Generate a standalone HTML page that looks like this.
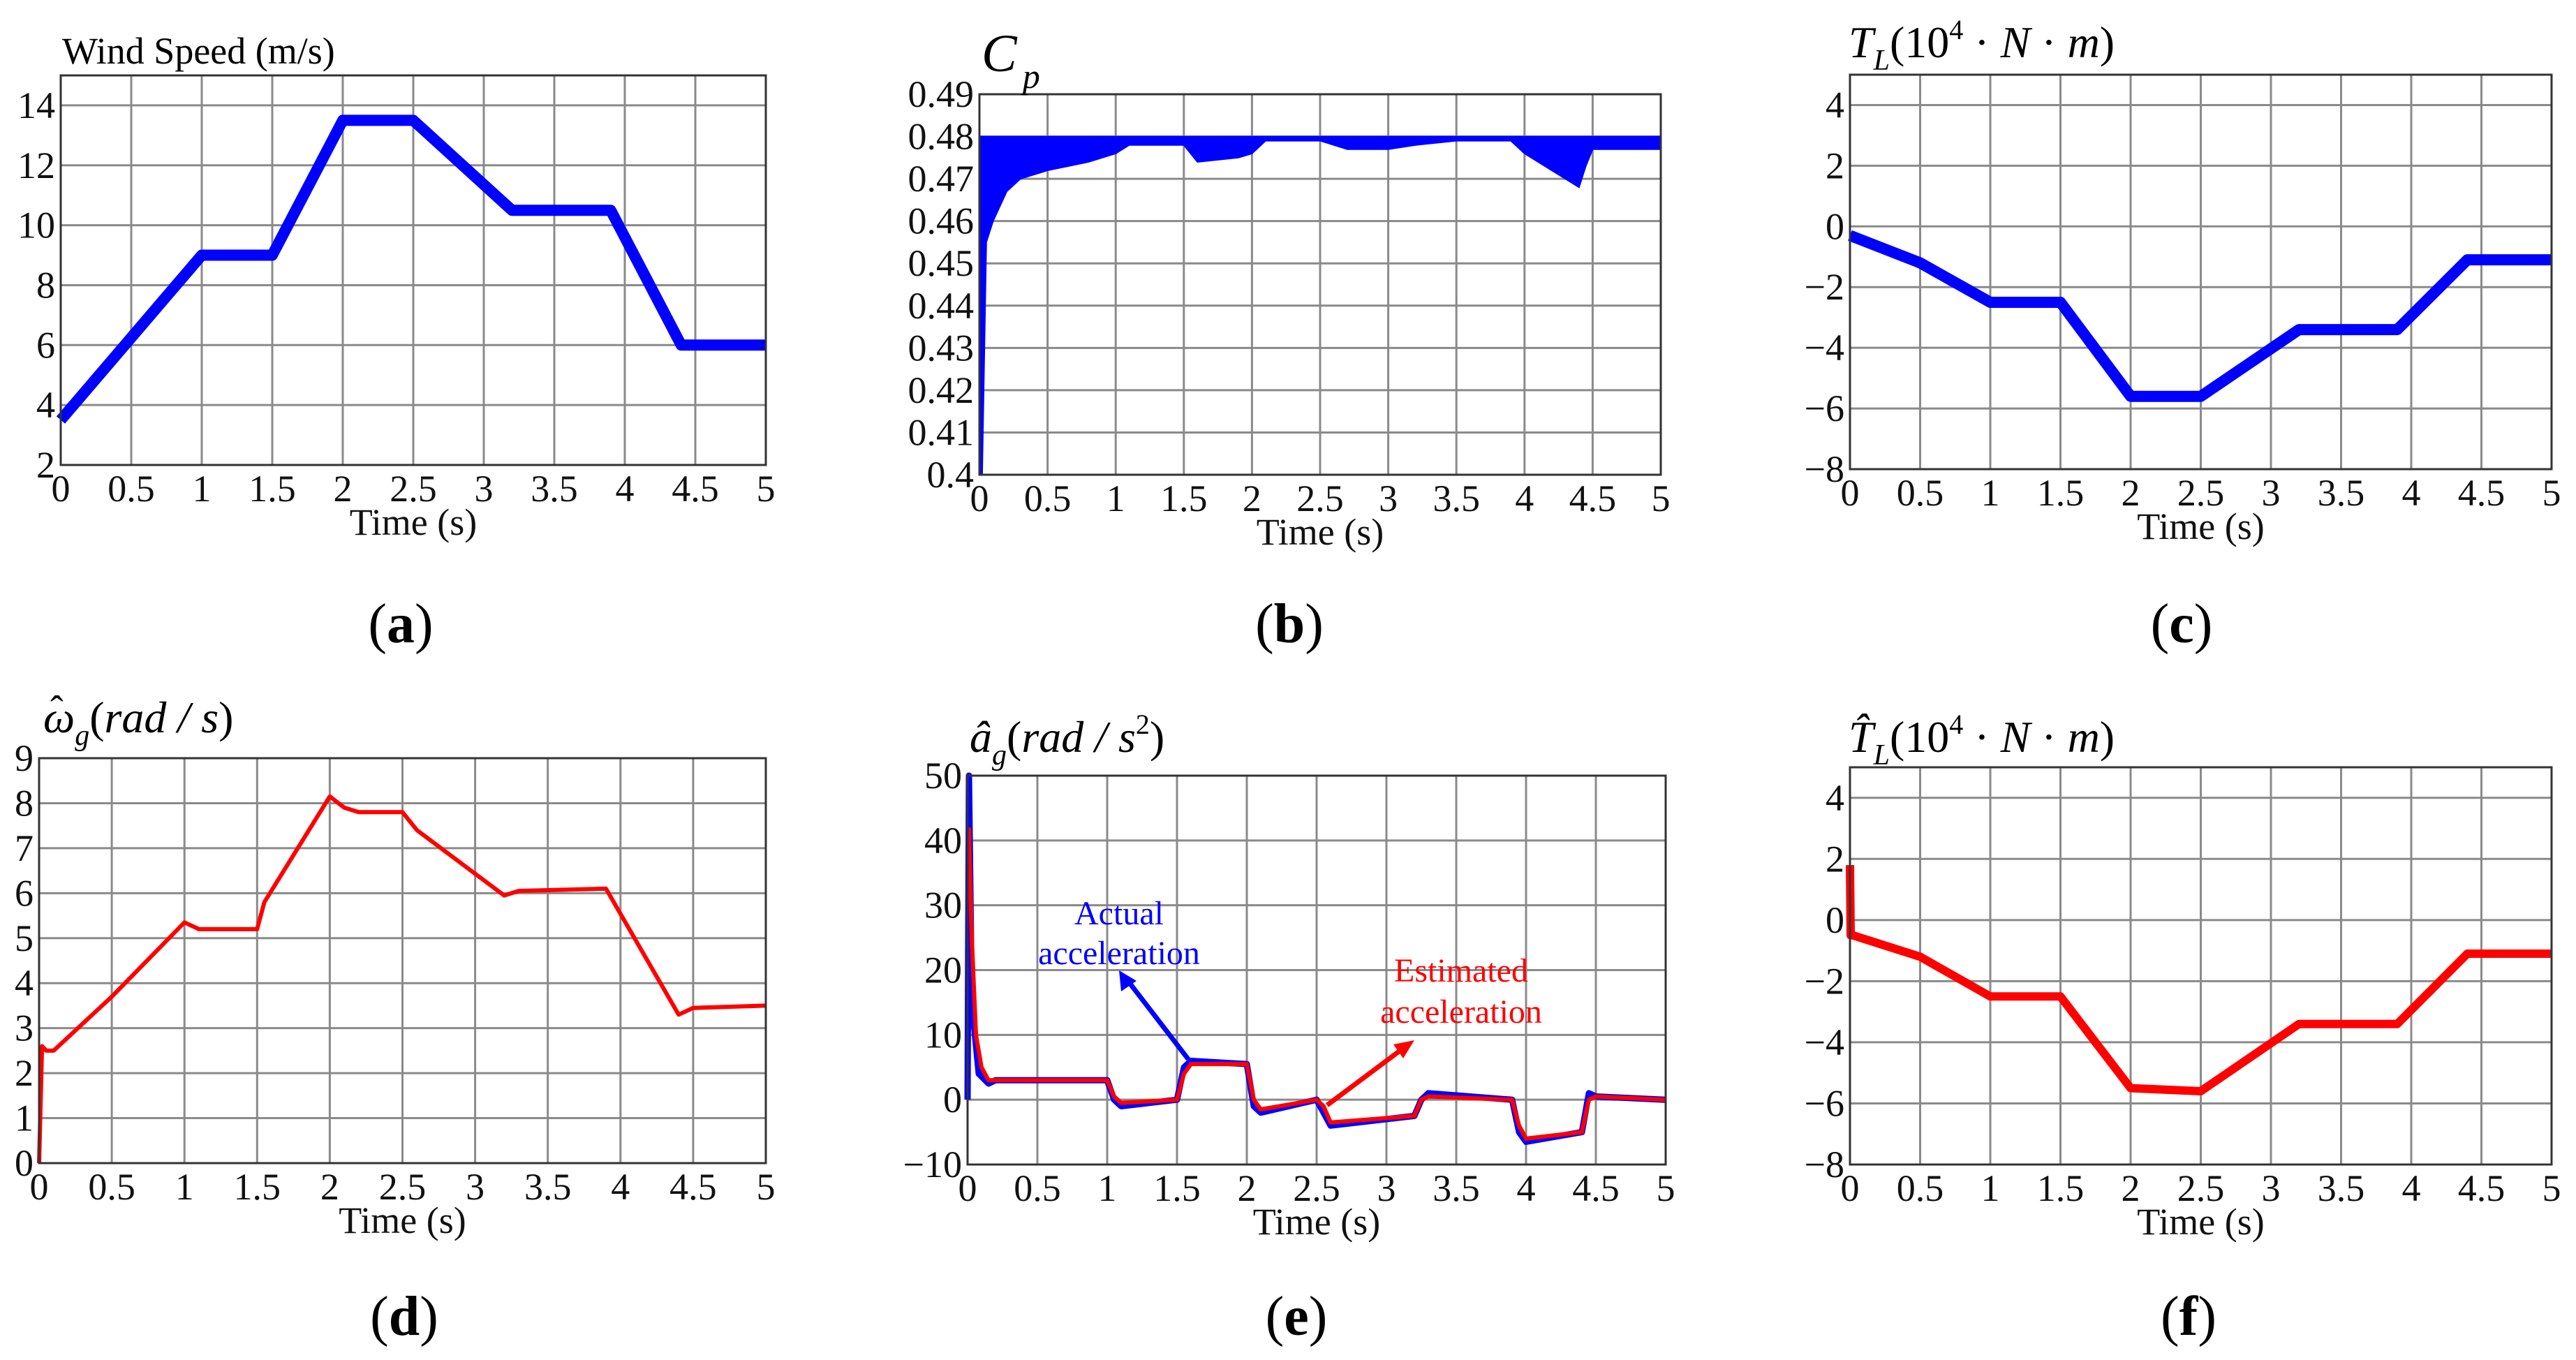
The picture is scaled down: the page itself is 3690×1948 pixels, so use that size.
<!DOCTYPE html>
<html><head><meta charset="utf-8">
<style>
html,body{margin:0;padding:0;background:#fff;}
svg{display:block;font-family:"Liberation Serif","DejaVu Serif",serif;}
</style></head>
<body>
<svg id="fig" width="3690" height="1948" viewBox="0 0 3690 1948" xmlns="http://www.w3.org/2000/svg"></svg>
<script>
// ---- data ----
const windT = [0,1,1.5,2,2.5,3.2,3.9,4.4,5];
const windV = [3.5,9,9,13.5,13.5,10.5,10.5,6,6];
const cpT = [0,0.02,0.05,0.1,0.2,0.3,0.5,0.8,1,1.1,1.5,1.6,1.9,2,2.1,2.5,2.7,3,3.2,3.5,3.9,4,4.2,4.4,4.45,4.5,5];
const cpLow = [0.40,0.40,0.455,0.46,0.467,0.470,0.472,0.474,0.476,0.478,0.478,0.474,0.475,0.476,0.479,0.479,0.477,0.477,0.478,0.479,0.479,0.476,0.472,0.468,0.473,0.477,0.477];
const cpHigh = 0.48;
const tlT = [0,0.5,1,1.5,2,2.5,3.2,3.9,4.4,5];
const tlV = [-0.3,-1.2,-2.5,-2.5,-5.6,-5.6,-3.4,-3.4,-1.1,-1.1];
const omT = [0,0.02,0.05,0.1,0.5,1,1.1,1.5,1.55,2,2.1,2.2,2.5,2.6,3.2,3.3,3.9,4.4,4.5,5];
const omV = [0,2.6,2.5,2.5,3.7,5.35,5.2,5.2,5.8,8.15,7.9,7.8,7.8,7.4,5.95,6.05,6.1,3.3,3.45,3.5];
const actT = [0,0.01,0.03,0.08,0.15,0.2,1,1.05,1.1,1.5,1.55,1.6,2,2.05,2.1,2.5,2.55,2.6,3.2,3.25,3.3,3.9,3.95,4.0,4.4,4.45,4.5,5];
const actV = [0,50,15,4,2.5,3,3,0,-1,0,5,6,5.5,-1,-2,0,-2,-4,-2.5,0,1,0,-5,-6.5,-5,1,0.5,0];
const estT = [0.01,0.03,0.06,0.1,0.15,0.2,1,1.05,1.1,1.5,1.55,1.6,2,2.05,2.1,2.5,2.55,2.6,3.2,3.25,3.3,3.9,3.95,4.0,4.4,4.45,4.5,5];
const estV = [42,25,10,5,3,3,3,0.5,-0.5,0,4,5.5,5.5,0,-1.5,0,-1,-3.5,-2.5,0,0.5,0,-4,-6,-5,0,0.5,0];
const tlhT = [0,0.005,0.02,0.5,1,1.5,2,2.5,3.2,3.9,4.4,5];
const tlhV = [1.8,-0.5,-0.5,-1.2,-2.5,-2.5,-5.5,-5.6,-3.4,-3.4,-1.1,-1.1];
const xTicks = [0,0.5,1,1.5,2,2.5,3,3.5,4,4.5,5];
const xTickLabels = ["0","0.5","1","1.5","2","2.5","3","3.5","4","4.5","5"];
const aTicks = [2,4,6,8,10,12,14];
const bTicks = [0.40,0.41,0.42,0.43,0.44,0.45,0.46,0.47,0.48,0.49];
const bTickLabels = ["0.4","0.41","0.42","0.43","0.44","0.45","0.46","0.47","0.48","0.49"];
const cTicks = [-8,-6,-4,-2,0,2,4];
const dTicks = [0,1,2,3,4,5,6,7,8,9];
const eTicks = [-10,0,10,20,30,40,50];

const NS="http://www.w3.org/2000/svg";
const svg=document.getElementById('fig');
function mk(tag,attrs,parent){const e=document.createElementNS(NS,tag);for(const k in attrs)e.setAttribute(k,attrs[k]);(parent||svg).appendChild(e);return e;}
function fmt(v){return (v<0?"\u2212"+Math.abs(v):String(v));}

function panel(P){
  const g=mk('g',{});
  
  
  P.sx=t=>P.x0+(t-0)/(5-0)*(P.x1-P.x0);
  P.sy=v=>P.y1-(v-P.ymin)/(P.ymax-P.ymin)*(P.y1-P.y0);
  xTicks.forEach((t,i)=>{
    const x=P.sx(t);
    if(i>0&&i<xTicks.length-1){const l=mk('line',{x1:x,x2:x,y1:P.y0,y2:P.y1,stroke:'#8a8a8a','stroke-width':3},g);
    
    }
    const tx=mk('text',{x:x,y:P.y1+52,'font-size':54,'text-anchor':'middle',fill:'#111'},g);
    tx.textContent=xTickLabels[i];
    
    
  });
  P.yt.forEach((v,i)=>{
    const y=P.sy(v);
    if(v>P.ymin&&v<P.ymax){const l=mk('line',{x1:P.x0,x2:P.x1,y1:y,y2:y,stroke:'#8a8a8a','stroke-width':3},g);
    
    }
    const tx=mk('text',{x:P.x0-8,y:y+18,'font-size':54,'text-anchor':'end',fill:'#111'},g);
    tx.textContent=P.ytl?P.ytl[i]:fmt(v);
    
    
  });
  const xl=mk('text',{x:(P.x0+P.x1)/2,y:P.y1+100,'font-size':54,'text-anchor':'middle',fill:'#111'},g);
  xl.textContent='Time (s)';
  
  
  P.g=g;
  return P;
}
function frame(P){
  const r=mk('rect',{x:P.x0,y:P.y0,width:P.x1-P.x0,height:P.y1-P.y0,fill:'none',stroke:'#333','stroke-width':3},P.g);
  
  
}
function line(P,T,V,color,w,name){
  const pts=T.map((t,i)=>P.sx(t).toFixed(1)+','+P.sy(V[i]).toFixed(1)).join(' ');
  const pl=mk('polyline',{points:pts,fill:'none',stroke:color,'stroke-width':w,'stroke-linejoin':'round','stroke-linecap':'butt'},P.g);
  
  
  return pl;
}
function sublabel(x,y,letter,name){
  const t=mk('text',{x:x,y:y,'font-size':80,'text-anchor':'middle',fill:'#000'});
  t.innerHTML='(<tspan font-weight="bold">'+letter+'</tspan>)';
  
  
}
function title(x,y,html,name){
  const t=mk('text',{x:x,y:y,'font-size':64,fill:'#000'});
  t.innerHTML=html;
  
  
}

// (a)
const A=panel({name:'panel-a-wind-speed',x0:87,x1:1097,y0:108,y1:666,ymin:2,ymax:15,yt:aTicks});
line(A,windT,windV,'#0000ff',16,'wind-speed-line');
frame(A);
title(89,91,'<tspan font-size="54">Wind Speed (m/s)</tspan>','y-axis-title-a');
sublabel(574,920,'a','label-a');

// (b)
const B=panel({name:'panel-b-cp',x0:1403,x1:2379,y0:135,y1:680,ymin:0.40,ymax:0.49,yt:bTicks,ytl:bTickLabels});
{
  const up=cpT.map(t=>B.sx(t).toFixed(1)+','+B.sy(cpHigh).toFixed(1));
  const lo=cpT.slice().reverse().map((t,i)=>B.sx(t).toFixed(1)+','+B.sy(cpLow[cpT.length-1-i]).toFixed(1));
  const pg=mk('polygon',{points:up.concat(lo).join(' '),fill:'#0000ff',stroke:'#0000ff','stroke-width':2},B.g);
  
  
}
frame(B);
title(1406,102,'<tspan font-style="italic" font-size="76">C</tspan><tspan font-style="italic" font-size="50" dx="8" dy="24">p</tspan>','y-axis-title-b');
sublabel(1847,920,'b','label-b');

// (c)
const C=panel({name:'panel-c-load-torque',x0:2650,x1:3655,y0:107,y1:672,ymin:-8,ymax:5,yt:cTicks});
line(C,tlT,tlV,'#0000ff',16,'load-torque-line');
frame(C);
title(2648,82,'<tspan font-style="italic">T</tspan><tspan font-style="italic" font-size="42" dy="18">L</tspan><tspan dy="-18">(10</tspan><tspan font-size="40" dy="-26">4</tspan><tspan dy="26"> · </tspan><tspan font-style="italic">N</tspan><tspan> · </tspan><tspan font-style="italic">m</tspan><tspan>)</tspan>','y-axis-title-c');
sublabel(3125,920,'c','label-c');

// (d)
const D=panel({name:'panel-d-omega',x0:56,x1:1097,y0:1086,y1:1666,ymin:0,ymax:9,yt:dTicks});
line(D,omT,omV,'#ff0000',6,'omega-estimate-line');
frame(D);
title(62,1049,'<tspan font-style="italic">ω</tspan><tspan font-style="italic" font-size="42" dy="18">g</tspan><tspan dy="-18">(</tspan><tspan font-style="italic">rad / s</tspan><tspan>)</tspan>','y-axis-title-d');
{
  const h=mk('text',{x:72,y:1035,'font-size':56,fill:'#000'});
  h.textContent='ˆ';
  
  
}
sublabel(579,1912,'d','label-d');

// (e)
const E=panel({name:'panel-e-acceleration',x0:1386,x1:2386,y0:1111,y1:1668,ymin:-10,ymax:50,yt:eTicks});
line(E,actT,actV,'#0000ff',9,'actual-acceleration-line');
line(E,estT,estV,'#ff0000',6,'estimated-acceleration-line');
frame(E);
{
  const a1=mk('line',{x1:1702,y1:1517,x2:1615,y2:1404,stroke:'#0000ff','stroke-width':7},E.g);
  
  
  const h1=mk('polygon',{points:'1603,1390 1628,1405 1606,1420',fill:'#0000ff'},E.g);
  
  
  const a2=mk('line',{x1:1901,y1:1583,x2:2012,y2:1500,stroke:'#ff0000','stroke-width':7},E.g);
  
  
  const h2=mk('polygon',{points:'2026,1490 2010,1516 1996,1496',fill:'#ff0000'},E.g);
  
  
  const t1=mk('text',{x:1603,y:1324,'font-size':48,'text-anchor':'middle',fill:'#0000ff'},E.g);
  t1.innerHTML='Actual<tspan x="1603" dy="57">acceleration</tspan>';
  
  
  const t2=mk('text',{x:2093,y:1406,'font-size':48,'text-anchor':'middle',fill:'#ff0000'},E.g);
  t2.innerHTML='Estimated<tspan x="2093" dy="59">acceleration</tspan>';
  
  
}
title(1389,1077,'<tspan font-style="italic">â</tspan><tspan font-style="italic" font-size="42" dy="18">g</tspan><tspan dy="-18">(</tspan><tspan font-style="italic">rad / s</tspan><tspan font-size="40" dy="-26">2</tspan><tspan dy="26">)</tspan>','y-axis-title-e');
sublabel(1857,1912,'e','label-e');

// (f)
const F=panel({name:'panel-f-estimated-torque',x0:2650,x1:3655,y0:1099,y1:1668,ymin:-8,ymax:5,yt:cTicks});
line(F,tlhT,tlhV,'#ff0000',12,'estimated-torque-line');
frame(F);
title(2648,1077,'<tspan font-style="italic">T̂</tspan><tspan font-style="italic" font-size="42" dy="18">L</tspan><tspan dy="-18">(10</tspan><tspan font-size="40" dy="-26">4</tspan><tspan dy="26"> · </tspan><tspan font-style="italic">N</tspan><tspan> · </tspan><tspan font-style="italic">m</tspan><tspan>)</tspan>','y-axis-title-f');
sublabel(3135,1912,'f','label-f');
</script>
</body></html>
